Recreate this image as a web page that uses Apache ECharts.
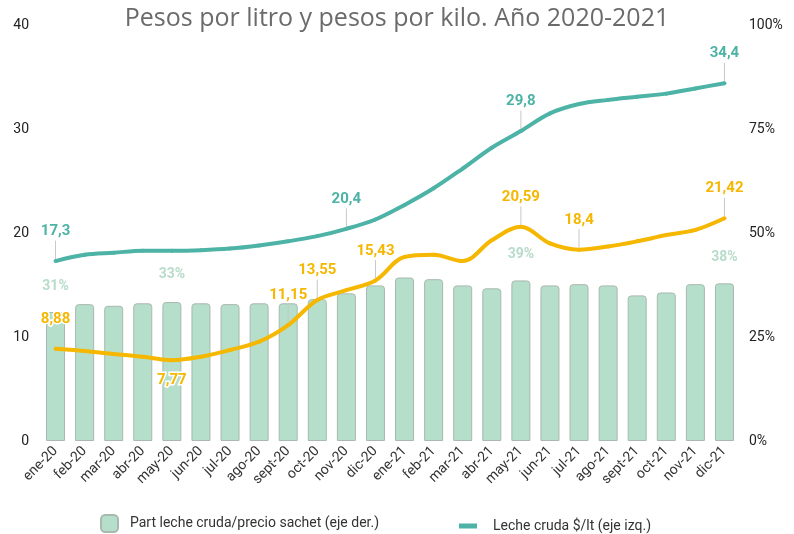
<!DOCTYPE html>
<html>
<head>
<meta charset="utf-8">
<script src="https://cdn.jsdelivr.net/npm/echarts@6/dist/echarts.min.js"></script>
<style>
  html, body { margin: 0; padding: 0; background: #fff; }
  #main { width: 794px; height: 534px; }
</style>
</head>
<body>
<div id="main"></div>
<script>
var months = ["ene-20", "feb-20", "mar-20", "abr-20", "may-20", "jun-20", "jul-20", "ago-20", "sept-20", "oct-20", "nov-20", "dic-20",
  "ene-21", "feb-21", "mar-21", "abr-21", "may-21", "jun-21", "jul-21", "ago-21", "sept-21", "oct-21", "nov-21", "dic-21"];
// participacion leche cruda / precio sachet (%), eje derecho
var partShare = [31, 32.9, 32.5, 33.1, 33.4, 33.1, 32.9, 33.1, 33.1, 34.1, 35.5, 37.4,
  39.3, 38.9, 37.4, 36.7, 38.6, 37.4, 37.7, 37.4, 35.0, 35.7, 37.7, 37.9];
// leche cruda $/lt, eje izquierdo
var rawMilk = [17.3, 17.9, 18.1, 18.3, 18.3, 18.35, 18.5, 18.8, 19.2, 19.7, 20.4, 21.3,
  22.7, 24.3, 26.2, 28.2, 29.8, 31.5, 32.4, 32.8, 33.1, 33.4, 33.9, 34.4];
// precio por kilo (linea amarilla)
var yellowLine = [8.88, 8.65, 8.37, 8.1, 7.77, 8.1, 8.75, 9.55, 11.15, 13.55, 14.5, 15.43,
  17.7, 17.9, 17.3, 19.3, 20.59, 19.0, 18.4, 18.7, 19.2, 19.8, 20.3, 21.42];
var shareLabelIdx = [0, 4, 16, 23];
var rawLabelIdx = [0, 10, 16, 23];
var yellowLabelIdx = [0, 4, 8, 9, 11, 16, 18, 23];
var yellowNoLeader = [0, 4];
var leftTicks = [0, 10, 20, 30, 40];
var rightTicks = [0, 25, 50, 75, 100];

var myChart = echarts.init(document.getElementById("main"));

function fmt(v) {
  return String(v).replace(".", ",");
}

var teal = "#4db3a6";
var yellow = "#f5b700";
var barFill = "#b5dfca";

function lineData(values, idx, color, below, noLeader) {
  return values.map(function (v, i) {
    var isBelow = i === below;
    return {
      value: v,
      labelLine: { show: noLeader.indexOf(i) < 0 },
      label: {
        show: idx.indexOf(i) >= 0,
        position: isBelow ? "bottom" : "top",
        distance: isBelow ? 11 : 4,
        formatter: fmt(v),
        fontFamily: "Roboto", fontWeight: "bold", fontSize: 15,
        color: color, textBorderColor: "#fff", textBorderWidth: 3
      }
    };
  });
}

var option = {
  animation: false,
  title: {
    text: "Pesos por litro y pesos por kilo. Año 2020-2021",
    left: "center",
    top: 1,
    textStyle: { fontFamily: "Open Sans", fontWeight: "normal", fontSize: 25, color: "#6b6b6b" }
  },
  legend: [
    {
      bottom: 1,
      left: 100,
      padding: 0,
      itemWidth: 17,
      itemHeight: 17,
      textStyle: { fontFamily: "Roboto", fontSize: 14, color: "#333", padding: [0, 0, 0, 7] },
      data: [{ name: "Part leche cruda/precio sachet (eje der.)", icon: "roundRect" }]
    },
    {
      bottom: 1,
      left: 459,
      padding: 0,
      itemWidth: 18,
      itemHeight: 5,
      textStyle: { fontFamily: "Roboto", fontSize: 14, color: "#333", padding: [0, 0, 0, 11] },
      data: [{ name: "Leche cruda $/lt (eje izq.)", icon: "rect" }]
    }
  ],
  grid: { left: 41, right: 55, top: 25, bottom: 93 },
  xAxis: {
    type: "category",
    data: months,
    axisLine: { show: false },
    axisTick: { show: false },
    axisLabel: { rotate: 45, interval: 0, fontFamily: "Roboto", fontSize: 14, color: "#333", margin: 8 }
  },
  yAxis: [
    {
      type: "value", min: leftTicks[0], max: leftTicks[leftTicks.length - 1], interval: 10,
      splitLine: { show: false },
      axisLabel: { fontFamily: "Roboto", fontSize: 14, color: "#222", margin: 12 }
    },
    {
      type: "value", min: rightTicks[0], max: rightTicks[rightTicks.length - 1], interval: 25,
      splitLine: { show: false },
      axisLabel: { formatter: "{value}%", fontFamily: "Roboto", fontSize: 14, color: "#222", margin: 10 }
    }
  ],
  series: [
    {
      name: "Part leche cruda/precio sachet (eje der.)",
      type: "bar",
      yAxisIndex: 1,
      barWidth: 19,
      itemStyle: { color: barFill, borderColor: "#a9b8b0", borderWidth: 1, borderRadius: [3, 3, 0, 0] },
      data: partShare.map(function (v, i) {
        return {
          value: v,
          label: {
            show: shareLabelIdx.indexOf(i) >= 0,
            position: "top",
            distance: i === 4 ? 21 : 19,
            formatter: Math.round(v) + "%",
            fontFamily: "Roboto", fontWeight: "bold", fontSize: 14,
            color: "#b8dcca"
          }
        };
      })
    },
    {
      name: "Leche cruda $/lt (eje izq.)",
      type: "line",
      yAxisIndex: 0,
      smooth: 0.35,
      symbol: "circle",
      symbolSize: 4,
      showAllSymbol: true,
      lineStyle: { color: teal, width: 4 },
      itemStyle: { color: teal },
      labelLine: { show: true, lineStyle: { color: "#c8c8c8", width: 1 } },
      labelLayout: function (p) {
        return { dy: -16 };
      },
      data: lineData(rawMilk, rawLabelIdx, teal, -1, [])
    },
    {
      name: "Precio por kilo",
      type: "line",
      yAxisIndex: 0,
      smooth: 0.35,
      symbol: "circle",
      symbolSize: 4,
      showAllSymbol: true,
      lineStyle: { color: yellow, width: 4 },
      itemStyle: { color: yellow },
      labelLine: { show: true, lineStyle: { color: "#c8c8c8", width: 1 } },
      labelLayout: function (p) {
        return p.dataIndex === 4 ? {} : { dy: -16 };
      },
      data: lineData(yellowLine, yellowLabelIdx, yellow, 4, yellowNoLeader)
    }
  ]
};

myChart.setOption(option);
</script>
</body>
</html>
